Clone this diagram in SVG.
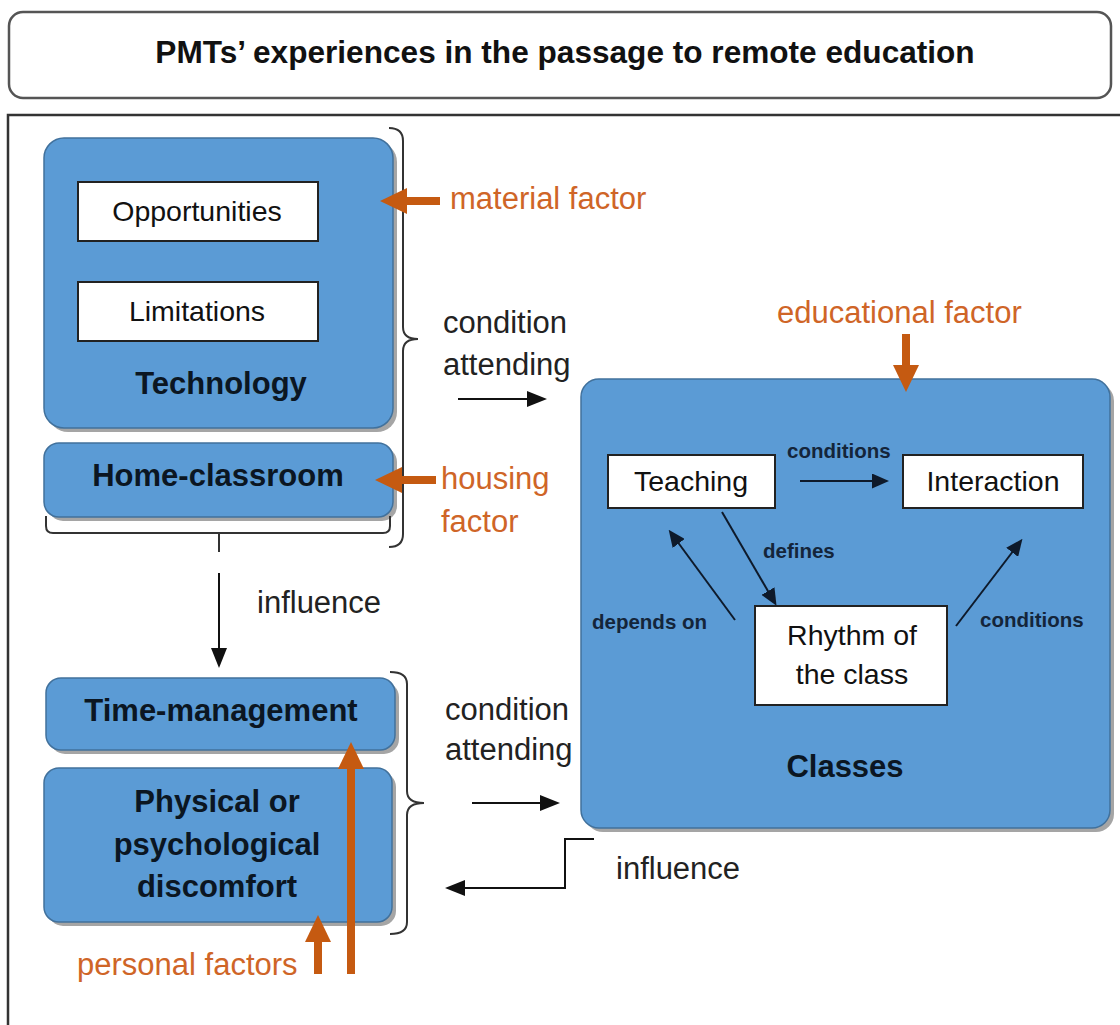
<svg xmlns="http://www.w3.org/2000/svg" width="1120" height="1025" viewBox="0 0 1120 1025">
  <style>
    text { font-family: "Liberation Sans", Arial, sans-serif; }
    .title { font-size: 31.6px; font-weight: bold; fill: #111; }
    .lbl { font-size: 31px; fill: #222; }
    .fac { font-size: 31px; fill: #cf6527; }
    .in { font-size: 28.5px; fill: #111; }
    .head { font-size: 31px; font-weight: bold; fill: #0b1622; }
    .small { font-size: 20.5px; font-weight: bold; fill: #14253a; }
    .blue { fill: #5b9bd5; stroke: #41719c; stroke-width: 1.5; }
    .shadow { fill: #7f7f7f; opacity: 0.7; }
    .white { fill: #fff; stroke: #222; stroke-width: 2; }
    .brace { fill: none; stroke: #333; stroke-width: 2; }
    .arrow { fill: none; stroke: #111; stroke-width: 2; }
    .arrowS { fill: none; stroke: #0e1a2b; stroke-width: 2; }
    .orange { fill: none; stroke: #c55a11; stroke-width: 8; }
  </style>
  <defs>
    <marker id="ah" markerUnits="userSpaceOnUse" markerWidth="20" markerHeight="16" refX="11" refY="8" orient="auto">
      <path d="M0,0 L20,8 L0,16 z" fill="#111"/>
    </marker>
    <marker id="ahs" markerUnits="userSpaceOnUse" markerWidth="17" markerHeight="15" refX="8" refY="7.5" orient="auto">
      <path d="M0,0 L17,7.5 L0,15 z" fill="#0e1a2b"/>
    </marker>
    <marker id="aho" markerUnits="userSpaceOnUse" markerWidth="27" markerHeight="26" refX="7" refY="13" orient="auto">
      <path d="M0,0 L27,13 L0,26 z" fill="#c55a11"/>
    </marker>
  </defs>

  <!-- heading -->
  <g id="title">
    <rect x="9" y="12" width="1102" height="86" rx="14" fill="#fff" stroke="#555" stroke-width="2.5"/>
    <text class="title" x="565" y="63" text-anchor="middle">PMTs’ experiences in the passage to remote education</text>
  </g>

  <!-- frame around the model -->
  <rect id="frame" x="8" y="115" width="1140" height="940" fill="none" stroke="#333" stroke-width="2.5"/>

  <g id="technology">
    <rect class="shadow" x="48" y="142" width="349" height="290" rx="20"/>
    <rect class="blue" x="44" y="138" width="349" height="290" rx="20"/>
    <text class="head" x="221" y="394" text-anchor="middle">Technology</text>
  </g>
  <g id="opportunities">
    <rect class="white" x="78" y="182" width="240" height="59"/>
    <text class="in" x="197" y="221" text-anchor="middle">Opportunities</text>
  </g>
  <g id="limitations">
    <rect class="white" x="78" y="282" width="240" height="59"/>
    <text class="in" x="197" y="321" text-anchor="middle">Limitations</text>
  </g>
  <g id="home-classroom">
    <rect class="shadow" x="48" y="447" width="349" height="74" rx="15"/>
    <rect class="blue" x="44" y="443" width="349" height="74" rx="15"/>
    <text class="head" x="218" y="486" text-anchor="middle">Home-classroom</text>
  </g>

  <g id="time-management">
    <rect class="shadow" x="50" y="682" width="349" height="72" rx="15"/>
    <rect class="blue" x="46" y="678" width="349" height="72" rx="15"/>
    <text class="head" x="221" y="721" text-anchor="middle">Time-management</text>
  </g>
  <g id="discomfort">
    <rect class="shadow" x="48" y="772" width="348" height="154" rx="15"/>
    <rect class="blue" x="44" y="768" width="348" height="154" rx="15"/>
    <text class="head" x="217" y="812" text-anchor="middle">Physical or</text>
    <text class="head" x="217" y="855" text-anchor="middle">psychological</text>
    <text class="head" x="217" y="897" text-anchor="middle">discomfort</text>
  </g>

  <g id="classes">
    <rect class="shadow" x="585" y="383" width="529" height="449" rx="18"/>
    <rect class="blue" x="581" y="379" width="529" height="449" rx="18"/>
    <text class="head" x="845" y="777" text-anchor="middle">Classes</text>
  </g>
  <g id="teaching">
    <rect class="white" x="608" y="455" width="167" height="53"/>
    <text class="in" x="691" y="491" text-anchor="middle">Teaching</text>
  </g>
  <g id="interaction">
    <rect class="white" x="903" y="455" width="180" height="53"/>
    <text class="in" x="993" y="491" text-anchor="middle">Interaction</text>
  </g>
  <g id="rhythm">
    <rect class="white" x="755" y="606" width="192" height="99"/>
    <text class="in" x="852" y="645" text-anchor="middle">Rhythm of</text>
    <text class="in" x="852" y="684" text-anchor="middle">the class</text>
  </g>

  <!-- group braces -->
  <g id="braces">
    <path class="brace" d="M389,128 Q403,128 403,141 V327 Q403,339 418,339 Q403,339 403,351 V534 Q403,547 389,547"/>
    <path class="brace" d="M46,516 V526 Q46,533 53,533 H383 Q390,533 390,526 V516 M219,533 V552"/>
    <path class="brace" d="M390,672 Q407,672 407,684 V791 Q407,803 424,803 Q407,803 407,815 V922 Q407,934 390,934"/>
  </g>

  <g id="connectors">
    <!-- black relations -->
    <line class="arrow" x1="458" y1="399" x2="538" y2="399" marker-end="url(#ah)"/>
    <line class="arrow" x1="219" y1="573" x2="219" y2="659" marker-end="url(#ah)"/>
    <line class="arrow" x1="472" y1="803" x2="551" y2="803" marker-end="url(#ah)"/>
    <path class="arrow" d="M594,839 H565 V888 H454" marker-end="url(#ah)"/>
    <!-- inside the classes box -->
    <line class="arrowS" x1="800" y1="481" x2="880" y2="481" marker-end="url(#ahs)"/>
    <line class="arrowS" x1="722" y1="512" x2="772" y2="598" marker-end="url(#ahs)"/>
    <line class="arrowS" x1="735" y1="620" x2="674" y2="537" marker-end="url(#ahs)"/>
    <line class="arrowS" x1="956" y1="626" x2="1017" y2="546" marker-end="url(#ahs)"/>
    <!-- factor arrows -->
    <line class="orange" x1="440" y1="201" x2="400" y2="201" marker-end="url(#aho)"/>
    <line class="orange" x1="436" y1="480" x2="395" y2="480" marker-end="url(#aho)"/>
    <line class="orange" x1="906" y1="334" x2="906" y2="372" marker-end="url(#aho)"/>
    <line class="orange" x1="318" y1="974" x2="318" y2="935" marker-end="url(#aho)"/>
    <line class="orange" x1="351" y1="974" x2="351" y2="762" marker-end="url(#aho)"/>
  </g>

  <g id="labels">
    <text class="fac" x="450" y="209">material factor</text>
    <text class="lbl" x="443" y="333">condition</text>
    <text class="lbl" x="443" y="375">attending</text>
    <text class="fac" x="441" y="489">housing</text>
    <text class="fac" x="441" y="532">factor</text>
    <text class="fac" x="777" y="323">educational factor</text>
    <text class="small" x="787" y="458">conditions</text>
    <text class="small" x="763" y="558">defines</text>
    <text class="small" x="592" y="629">depends on</text>
    <text class="small" x="980" y="627">conditions</text>
    <text class="lbl" x="257" y="613">influence</text>
    <text class="lbl" x="445" y="720">condition</text>
    <text class="lbl" x="445" y="760">attending</text>
    <text class="lbl" x="616" y="879">influence</text>
    <text class="fac" x="77" y="975">personal factors</text>
  </g>
</svg>
